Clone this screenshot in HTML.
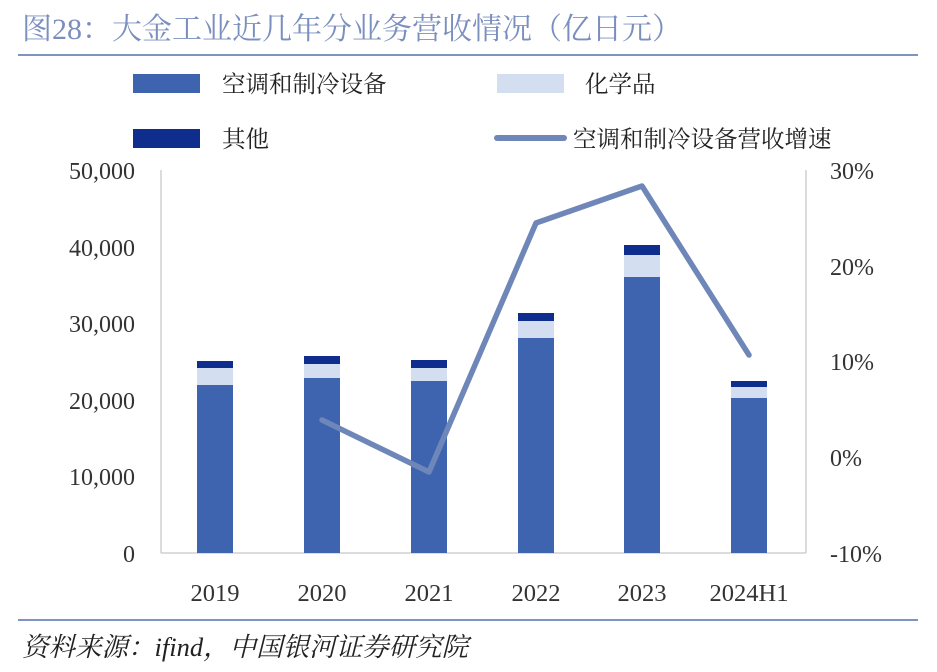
<!DOCTYPE html>
<html><head><meta charset="utf-8"><style>
body{margin:0;background:#fff;}
svg text{font-family:"Liberation Serif","Noto Serif CJK SC",serif;}
</style></head><body>
<svg width="937" height="667" xmlns="http://www.w3.org/2000/svg">
<rect width="937" height="667" fill="#fff"/>
<text x="22" y="39" font-size="30" fill="#7b8fbf">图28：大金工业近几年分业务营收情况（亿日元）</text>
<line x1="18" y1="55" x2="918" y2="55" stroke="#7f93c3" stroke-width="2"/>
<!-- legend -->
<rect x="133" y="74" width="67" height="19" fill="#3e64b0"/>
<text x="222" y="92" font-size="23.5" fill="#222" font-family="'Liberation Sans','Noto Sans CJK SC',sans-serif">空调和制冷设备</text>
<rect x="497" y="74" width="67" height="19" fill="#d3def0"/>
<text x="585" y="92" font-size="23.5" fill="#222" font-family="'Liberation Sans','Noto Sans CJK SC',sans-serif">化学品</text>
<rect x="133" y="129" width="67" height="19" fill="#0f2d8c"/>
<text x="222" y="147" font-size="23.5" fill="#222" font-family="'Liberation Sans','Noto Sans CJK SC',sans-serif">其他</text>
<line x1="497" y1="138" x2="564" y2="138" stroke="#6f86b8" stroke-width="6" stroke-linecap="round"/>
<text x="573" y="147" font-size="23.5" fill="#222" font-family="'Liberation Sans','Noto Sans CJK SC',sans-serif">空调和制冷设备营收增速</text>
<!-- axes -->
<line x1="161" y1="170" x2="161" y2="553" stroke="#d0d0d0" stroke-width="1.5"/>
<line x1="806" y1="170" x2="806" y2="553" stroke="#d0d0d0" stroke-width="1.5"/>
<line x1="161" y1="553" x2="806" y2="553" stroke="#d0d0d0" stroke-width="1.5"/>
<g font-size="24" fill="#333" text-anchor="end">
<text x="135" y="179">50,000</text>
<text x="135" y="256">40,000</text>
<text x="135" y="332">30,000</text>
<text x="135" y="409">20,000</text>
<text x="135" y="485">10,000</text>
<text x="135" y="562">0</text>
</g>
<g font-size="24" fill="#333" text-anchor="start">
<text x="830" y="179">30%</text>
<text x="830" y="275">20%</text>
<text x="830" y="370">10%</text>
<text x="830" y="466">0%</text>
<text x="830" y="562">-10%</text>
</g>
<!-- bars -->
<g>
<rect x="197" y="385" width="36" height="168" fill="#3e64b0"/><rect x="197" y="368" width="36" height="17" fill="#d3def0"/><rect x="197" y="361" width="36" height="7" fill="#0f2d8c"/>
<rect x="304" y="378" width="36" height="175" fill="#3e64b0"/><rect x="304" y="364" width="36" height="14" fill="#d3def0"/><rect x="304" y="356" width="36" height="8" fill="#0f2d8c"/>
<rect x="411" y="381" width="36" height="172" fill="#3e64b0"/><rect x="411" y="368" width="36" height="13" fill="#d3def0"/><rect x="411" y="360" width="36" height="8" fill="#0f2d8c"/>
<rect x="518" y="338" width="36" height="215" fill="#3e64b0"/><rect x="518" y="321" width="36" height="17" fill="#d3def0"/><rect x="518" y="313" width="36" height="8" fill="#0f2d8c"/>
<rect x="624" y="277" width="36" height="276" fill="#3e64b0"/><rect x="624" y="255" width="36" height="22" fill="#d3def0"/><rect x="624" y="245" width="36" height="10" fill="#0f2d8c"/>
<rect x="731" y="398" width="36" height="155" fill="#3e64b0"/><rect x="731" y="387" width="36" height="11" fill="#d3def0"/><rect x="731" y="381" width="36" height="6" fill="#0f2d8c"/>
</g>
<polyline points="322,420 429,472 536,223 642,186 749,355" fill="none" stroke="#6f86b8" stroke-width="5.5" stroke-linejoin="round" stroke-linecap="round"/>
<g font-size="24.5" fill="#333" text-anchor="middle">
<text x="215" y="601">2019</text><text x="322" y="601">2020</text><text x="429" y="601">2021</text>
<text x="536" y="601">2022</text><text x="642" y="601">2023</text><text x="749" y="601">2024H1</text>
</g>
<line x1="18" y1="620" x2="918" y2="620" stroke="#7f93c3" stroke-width="2"/>
<text x="22" y="656" font-size="26.5" fill="#222" font-style="italic">资料来源：ifind，中国银河证券研究院</text>
</svg>
</body></html>
